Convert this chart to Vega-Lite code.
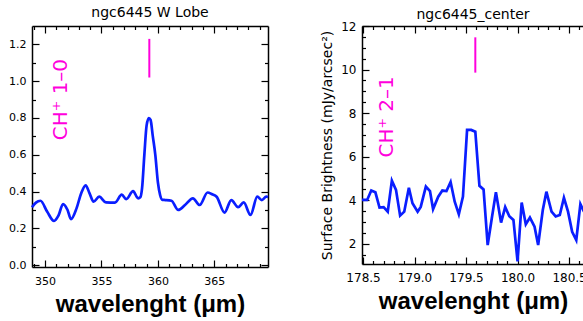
{
  "$schema": "https://vega.github.io/schema/vega-lite/v6.json",
  "background": "white",
  "padding": {"left": 8, "top": 6, "right": 0, "bottom": 0},
  "spacing": 46,
  "config": {
    "view": {"stroke": null},
    "axis": {
      "grid": false,
      "domainColor": "black",
      "domainWidth": 1.5,
      "tickColor": "black",
      "tickWidth": 1.2,
      "labelColor": "black",
      "labelFont": "DejaVu Sans",
      "labelOverlap": false,
      "labelFlush": false,
      "titleColor": "black"
    },
    "title": {"font": "DejaVu Sans", "fontWeight": "normal", "color": "black"}
  },
  "datasets": {
    "left": [
      {"w": 348.85, "v": 0.315}, {"w": 349.2, "v": 0.34}, {"w": 349.6, "v": 0.35}, {"w": 350.2, "v": 0.29},
      {"w": 350.8, "v": 0.24}, {"w": 351.2, "v": 0.27}, {"w": 351.6, "v": 0.332}, {"w": 352.0, "v": 0.30},
      {"w": 352.3, "v": 0.25}, {"w": 352.8, "v": 0.31}, {"w": 353.2, "v": 0.39}, {"w": 353.6, "v": 0.434},
      {"w": 353.95, "v": 0.39}, {"w": 354.3, "v": 0.345}, {"w": 354.8, "v": 0.372}, {"w": 355.4, "v": 0.341},
      {"w": 356.2, "v": 0.34}, {"w": 356.8, "v": 0.383}, {"w": 357.2, "v": 0.359}, {"w": 357.8, "v": 0.402},
      {"w": 358.25, "v": 0.363}, {"w": 358.45, "v": 0.37}, {"w": 358.6, "v": 0.42}, {"w": 358.8, "v": 0.60},
      {"w": 359.0, "v": 0.76}, {"w": 359.2, "v": 0.80}, {"w": 359.35, "v": 0.79}, {"w": 359.55, "v": 0.70},
      {"w": 359.77, "v": 0.60}, {"w": 360.0, "v": 0.45}, {"w": 360.2, "v": 0.38}, {"w": 360.4, "v": 0.355},
      {"w": 360.65, "v": 0.354}, {"w": 361.2, "v": 0.35}, {"w": 361.8, "v": 0.30}, {"w": 362.4, "v": 0.327},
      {"w": 363.1, "v": 0.363}, {"w": 363.7, "v": 0.327}, {"w": 364.4, "v": 0.395}, {"w": 364.8, "v": 0.385},
      {"w": 365.2, "v": 0.372}, {"w": 365.9, "v": 0.286}, {"w": 366.5, "v": 0.354}, {"w": 367.1, "v": 0.315},
      {"w": 367.6, "v": 0.341}, {"w": 368.2, "v": 0.273}, {"w": 368.8, "v": 0.372}, {"w": 369.2, "v": 0.354},
      {"w": 369.6, "v": 0.372}, {"w": 369.75, "v": 0.37}
    ],
    "right": [
      {"w": 178.49, "v": 4.02}, {"w": 178.54, "v": 4.02}, {"w": 178.58, "v": 4.45}, {"w": 178.62, "v": 4.37},
      {"w": 178.66, "v": 3.67}, {"w": 178.70, "v": 3.69}, {"w": 178.74, "v": 3.48}, {"w": 178.78, "v": 4.90},
      {"w": 178.82, "v": 4.48}, {"w": 178.86, "v": 3.30}, {"w": 178.90, "v": 3.48}, {"w": 178.945, "v": 4.58},
      {"w": 178.98, "v": 3.87}, {"w": 179.03, "v": 3.48}, {"w": 179.06, "v": 3.70}, {"w": 179.11, "v": 4.63},
      {"w": 179.15, "v": 4.42}, {"w": 179.18, "v": 3.60}, {"w": 179.23, "v": 4.17}, {"w": 179.27, "v": 4.45},
      {"w": 179.31, "v": 4.43}, {"w": 179.35, "v": 4.84}, {"w": 179.39, "v": 3.94}, {"w": 179.43, "v": 3.36},
      {"w": 179.47, "v": 4.17}, {"w": 179.51, "v": 7.23}, {"w": 179.55, "v": 7.23}, {"w": 179.59, "v": 7.15},
      {"w": 179.63, "v": 4.67}, {"w": 179.67, "v": 4.50}, {"w": 179.71, "v": 1.95}, {"w": 179.75, "v": 3.18},
      {"w": 179.79, "v": 4.37}, {"w": 179.84, "v": 2.98}, {"w": 179.88, "v": 3.69}, {"w": 179.92, "v": 3.27},
      {"w": 179.96, "v": 3.10}, {"w": 180.00, "v": 1.20}, {"w": 180.04, "v": 3.90}, {"w": 180.08, "v": 2.90},
      {"w": 180.12, "v": 3.21}, {"w": 180.165, "v": 2.79}, {"w": 180.20, "v": 1.95}, {"w": 180.245, "v": 3.56},
      {"w": 180.28, "v": 4.40}, {"w": 180.33, "v": 3.48}, {"w": 180.37, "v": 3.26}, {"w": 180.41, "v": 3.33},
      {"w": 180.45, "v": 4.12}, {"w": 180.49, "v": 3.48}, {"w": 180.53, "v": 2.56}, {"w": 180.57, "v": 2.18},
      {"w": 180.61, "v": 3.83}, {"w": 180.645, "v": 3.48}
    ],
    "leftMarker": [{"w": 359.24, "v1": 1.02, "v2": 1.23}],
    "rightMarker": [{"w": 179.59, "v1": 9.86, "v2": 11.48}],
    "leftLabel": [{"w": 351.45, "v": 0.9, "label": "CH⁺ 1–0"}],
    "rightLabel": [{"w": 178.73, "v": 7.83, "label": "CH⁺ 2–1"}]
  },
  "hconcat": [
    {
      "width": 236,
      "height": 241,
      "title": {"text": "ngc6445 W Lobe", "fontSize": 14, "offset": 5},
      "resolve": {"axis": {"x": "independent", "y": "independent"}},
      "layer": [
        {
          "data": {"name": "left"},
          "mark": {"type": "line", "color": "#0a1eff", "strokeWidth": 2.7, "interpolate": "monotone"},
          "encoding": {
            "x": {
              "field": "w", "type": "quantitative",
              "scale": {"domain": [348.85, 369.75], "nice": false, "zero": false},
              "axis": {
                "orient": "bottom",
                "values": [349,350,351,352,353,354,355,356,357,358,359,360,361,362,363,364,365,366,367,368,369],
                "format": "d",
                "labelExpr": "datum.value % 5 == 0 ? datum.label : ''",
                "tickSize": {"condition": {"test": "datum.value % 5 == 0", "value": -7}, "value": -3.5},
                "labelFontSize": 11,
                "labelPadding": 15,
                "labelOverlap": false,
                "labelFlush": false,
                "title": "wavelenght (μm)",
                "titleFont": "Liberation Sans",
                "titleFontWeight": "bold",
                "titleFontSize": 24,
                "titlePadding": 3
              }
            },
            "y": {
              "field": "v", "type": "quantitative",
              "scale": {"domain": [-0.01, 1.3], "nice": false, "zero": false},
              "axis": {
                "orient": "left",
                "values": [0,0.1,0.2,0.3,0.4,0.5,0.6,0.7,0.8,0.9,1.0,1.1,1.2],
                "format": ".1f",
                "labelExpr": "round(datum.value*10) % 2 == 0 ? datum.label : ''",
                "tickSize": {"condition": {"test": "round(datum.value*10) % 2 == 0", "value": -7}, "value": -3.5},
                "labelFontSize": 11,
                "labelPadding": 13,
                "labelOverlap": false,
                "labelFlush": false,
                "title": null
              }
            }
          }
        },
        {
          "data": {"name": "leftMarker"},
          "mark": {"type": "rule", "color": "#ff00dd", "strokeWidth": 2},
          "encoding": {
            "x": {
              "field": "w", "type": "quantitative",
              "scale": {"domain": [348.85, 369.75], "nice": false, "zero": false},
              "axis": {
                "orient": "top",
                "values": [349,350,351,352,353,354,355,356,357,358,359,360,361,362,363,364,365,366,367,368,369],
                "labels": false,
                "tickSize": {"condition": {"test": "datum.value % 5 == 0", "value": -7}, "value": -3.5},
                "title": null
              }
            },
            "y": {
              "field": "v1", "type": "quantitative",
              "scale": {"domain": [-0.01, 1.3], "nice": false, "zero": false},
              "axis": {
                "orient": "right",
                "values": [0,0.1,0.2,0.3,0.4,0.5,0.6,0.7,0.8,0.9,1.0,1.1,1.2],
                "labels": false,
                "tickSize": {"condition": {"test": "round(datum.value*10) % 2 == 0", "value": -7}, "value": -3.5},
                "title": null
              }
            },
            "y2": {"field": "v2"}
          }
        },
        {
          "data": {"name": "leftLabel"},
          "mark": {"type": "text", "color": "#ff00dd", "font": "DejaVu Sans", "fontSize": 20, "angle": 270, "align": "center", "baseline": "middle"},
          "encoding": {
            "x": {"field": "w", "type": "quantitative", "scale": {"domain": [348.85, 369.75], "nice": false, "zero": false}, "axis": null},
            "y": {"field": "v", "type": "quantitative", "scale": {"domain": [-0.01, 1.3], "nice": false, "zero": false}, "axis": null},
            "text": {"field": "label"}
          }
        }
      ]
    },
    {
      "width": 222,
      "height": 238,
      "title": {"text": "ngc6445_center", "fontSize": 14, "offset": -2},
      "resolve": {"axis": {"x": "independent", "y": "independent"}},
      "layer": [
        {
          "data": {"name": "right"},
          "mark": {"type": "line", "color": "#0a1eff", "strokeWidth": 2.7},
          "encoding": {
            "x": {
              "field": "w", "type": "quantitative",
              "scale": {"domain": [178.49, 180.645], "nice": false, "zero": false},
              "axis": {
                "orient": "bottom",
                "values": [178.5,178.6,178.7,178.8,178.9,179.0,179.1,179.2,179.3,179.4,179.5,179.6,179.7,179.8,179.9,180.0,180.1,180.2,180.3,180.4,180.5,180.6],
                "format": ".1f",
                "labelExpr": "round(datum.value*10) % 5 == 0 ? datum.label : ''",
                "tickSize": {"condition": {"test": "round(datum.value*10) % 5 == 0", "value": -7}, "value": -3.5},
                "labelFontSize": 12,
                "labelPadding": 15,
                "labelOverlap": false,
                "labelFlush": false,
                "title": "wavelenght (μm)",
                "titleFont": "Liberation Sans",
                "titleFontWeight": "bold",
                "titleFontSize": 24,
                "titlePadding": 3
              }
            },
            "y": {
              "field": "v", "type": "quantitative",
              "scale": {"domain": [1.08, 12], "nice": false, "zero": false},
              "axis": {
                "orient": "left",
                "values": [1.5,2,2.5,3,3.5,4,4.5,5,5.5,6,6.5,7,7.5,8,8.5,9,9.5,10,10.5,11,11.5,12],
                "labelExpr": "datum.value % 2 == 0 ? format(datum.value, 'd') : ''",
                "tickSize": {"condition": {"test": "datum.value % 2 == 0", "value": -7}, "value": -3.5},
                "labelFontSize": 12,
                "labelPadding": 13,
                "labelOverlap": false,
                "labelFlush": false,
                "title": "Surface Brightness (mJy/arcsec²)",
                "titleFont": "DejaVu Sans",
                "titleFontWeight": "normal",
                "titleFontSize": 14,
                "titlePadding": 6
              }
            }
          }
        },
        {
          "data": {"name": "rightMarker"},
          "mark": {"type": "rule", "color": "#ff00dd", "strokeWidth": 2},
          "encoding": {
            "x": {
              "field": "w", "type": "quantitative",
              "scale": {"domain": [178.49, 180.645], "nice": false, "zero": false},
              "axis": {
                "orient": "top",
                "values": [178.5,178.6,178.7,178.8,178.9,179.0,179.1,179.2,179.3,179.4,179.5,179.6,179.7,179.8,179.9,180.0,180.1,180.2,180.3,180.4,180.5,180.6],
                "labels": false,
                "tickSize": {"condition": {"test": "round(datum.value*10) % 5 == 0", "value": -7}, "value": -3.5},
                "title": null
              }
            },
            "y": {
              "field": "v1", "type": "quantitative",
              "scale": {"domain": [1.08, 12], "nice": false, "zero": false},
              "axis": null
            },
            "y2": {"field": "v2"}
          }
        },
        {
          "data": {"name": "rightLabel"},
          "mark": {"type": "text", "color": "#ff00dd", "font": "DejaVu Sans", "fontSize": 20, "angle": 270, "align": "center", "baseline": "middle"},
          "encoding": {
            "x": {"field": "w", "type": "quantitative", "scale": {"domain": [178.49, 180.645], "nice": false, "zero": false}, "axis": null},
            "y": {"field": "v", "type": "quantitative", "scale": {"domain": [1.08, 12], "nice": false, "zero": false}, "axis": null},
            "text": {"field": "label"}
          }
        }
      ]
    }
  ]
}
